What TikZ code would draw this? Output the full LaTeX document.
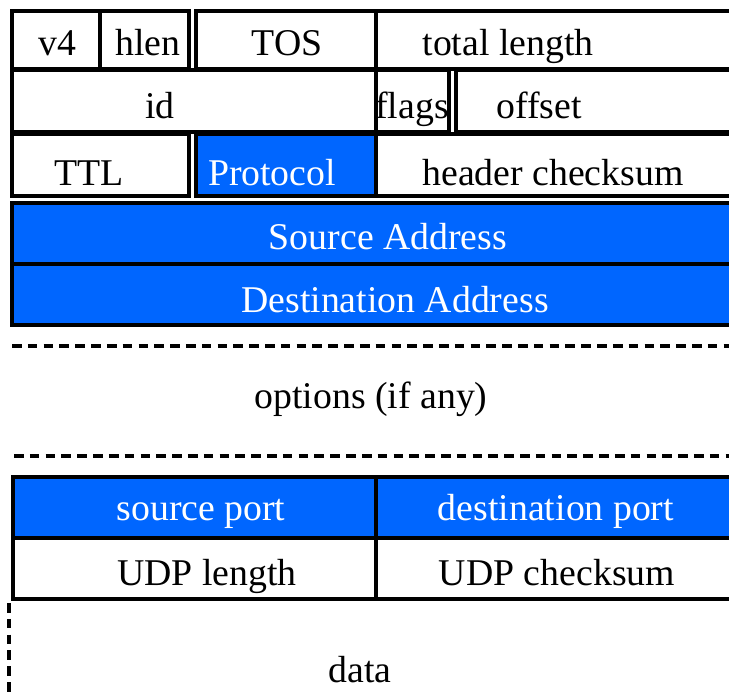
\documentclass[tikz,border=0pt]{standalone}
\usepackage{fontspec}
\setmainfont{Liberation Serif}
\definecolor{hdrblue}{RGB}{0,102,255}
\tikzset{
  cell/.style={draw=black, line width=2.1pt, fill=white},
  bluecell/.style={draw=black, line width=2.1pt, fill=hdrblue},
  lbl/.style={anchor=base, inner sep=0pt, font=\fontsize{21.5}{26}\selectfont, text=black},
  wlbl/.style={lbl, text=white},
  sep/.style={line width=2pt, dash pattern=on 5.5pt off 3.5pt}
}
\begin{document}
\begin{tikzpicture}[x=0.02cm, y=-0.02cm]
\useasboundingbox (0,0) rectangle (729,691);
\clip (0,0) rectangle (729,691);
% row 1
\draw[cell] (12,11) rectangle (100,69);
\draw[cell] (100,11) rectangle (189,69);
\draw[cell] (196,11) rectangle (376,69);
\draw[cell] (376,11) rectangle (745,69);
% row 2
\draw[cell] (12,70) rectangle (376,132);
\draw[cell] (376,70) rectangle (449,132);
\draw[cell] (456,70) rectangle (745,132);
% row 3
\draw[cell] (12,134) rectangle (189,196);
\draw[bluecell] (196,134) rectangle (376,196);
\draw[cell] (376,134) rectangle (745,196);
% addresses
\draw[bluecell] (12,203) rectangle (745,264);
\draw[bluecell] (12,264) rectangle (745,325);
% options separators
\coordinate (d1a) at (12,346);
\coordinate (d1b) at (745,346);
\coordinate (d2a) at (14,456);
\coordinate (d2b) at (745,456);
\draw[sep] (d1a) -- (d1b);
\draw[sep] (d2a) -- (d2b);
% UDP header
\draw[bluecell] (13,477) rectangle (376,538);
\draw[bluecell] (376,477) rectangle (745,538);
\draw[cell] (13,538) rectangle (376,599);
\draw[cell] (376,538) rectangle (745,599);
% data left edge
\coordinate (v1) at (9,603);
\coordinate (v2) at (9,700);
\draw[sep] (v1) -- (v2);
% labels
\node[lbl] (v4) at (57,55) {v4};
\node[lbl] (hlen) at (148,55) {hlen};
\node[lbl] (tos) at (287,55) {TOS};
\node[lbl] (tl) at (508,55) {total length};
\node[lbl] (id) at (160,118) {id};
\node[lbl] (flags) at (412,118) {flags};
\node[lbl] (off) at (539,118) {offset};
\node[lbl] (ttl) at (89,185) {TTL};
\node[wlbl] (proto) at (272,185) {Protocol};
\node[lbl] (hcs) at (553,185) {header checksum};
\node[wlbl] (src) at (388,249) {Source Address};
\node[wlbl] (dst) at (395,312) {Destination Address};
\node[lbl] (opt) at (371,408) {options (if any)};
\node[wlbl] (sp) at (201,520) {source port};
\node[wlbl] (dp) at (556,520) {destination port};
\node[lbl] (ul) at (207,585) {UDP length};
\node[lbl] (uc) at (557,585) {UDP checksum};
\node[lbl] (data) at (360,682) {data};
\end{tikzpicture}
\end{document}
